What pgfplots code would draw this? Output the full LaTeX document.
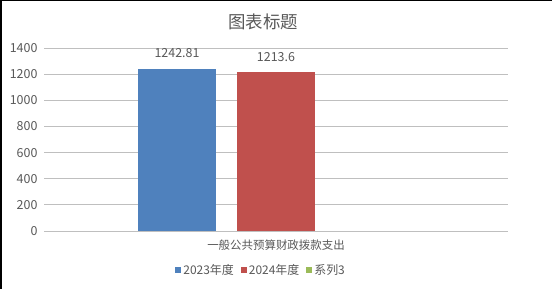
\documentclass[border=0pt]{standalone}
\usepackage{pgfplots}
\pgfplotsset{compat=1.18}
\usepackage{fontspec}
\setmainfont{Noto Sans CJK SC}
\definecolor{sblue}{HTML}{4F81BD}
\definecolor{sred}{HTML}{C0504D}
\definecolor{sgreen}{HTML}{9BBB59}
\definecolor{txt}{HTML}{595959}
\definecolor{grid}{HTML}{DDDDDD}
\begin{document}
\begin{tikzpicture}
\path[use as bounding box] (0bp,0bp) rectangle (552bp,289bp);
\fill[white] (0bp,0bp) rectangle (552bp,289bp);
\draw[black,line width=1bp] (0bp,288.5bp) -- (552bp,288.5bp);
\draw[black,line width=2bp] (1bp,0bp) -- (1bp,289bp);
\node[text=txt,font=\fontsize{17.5}{20}\selectfont] at (263bp,267bp) {图表标题};
\begin{axis}[
  at={(44bp,58bp)}, anchor=south west,
  scale only axis, width=464bp, height=183bp,
  ybar=21bp, bar width=78bp,
  xmin=-0.5, xmax=0.5, ymin=0, ymax=1400,
  ytick={0,200,...,1400},
  xtick={0}, xticklabels={一般公共预算财政拨款支出},
  axis line style={draw=none},
  major tick length=0pt,
  xtick style={draw=none}, ytick style={draw=none},
  xmajorgrids=false, ymajorgrids, grid style={grid, line width=0.75bp},
  tick label style={text=txt, font=\fontsize{11.5}{13}\selectfont},
  yticklabel style={font=\fontsize{12.5}{14}\selectfont, xshift=-3bp},
  /pgf/number format/assume math mode=true,
  /pgf/number format/1000 sep={},
  xticklabel style={yshift=-5bp},
  legend columns=-1,
  legend style={at={(0.468,-0.213)}, anchor=center, draw=none, fill=none,
    font=\fontsize{12}{14}\selectfont, text=txt,
    /tikz/every even column/.append style={column sep=5bp}},
  legend image code/.code={\path[#1,draw=none] (0bp,-3bp) rectangle (6bp,3bp);},
  nodes near coords style={text=txt, font=\fontsize{12.5}{14}\selectfont, anchor=south, inner sep=0pt, yshift=11bp},
  point meta=explicit symbolic,
]
\addplot[fill=sblue, draw=none, nodes near coords] coordinates {(0,1242.81) [1242.81]};
\addplot[fill=sred, draw=none, nodes near coords] coordinates {(0,1213.6) [1213.6]};
\addplot[fill=sgreen, draw=none] coordinates {(0,0) [ ]};
\legend{2023年度,2024年度,系列3}
\end{axis}
\end{tikzpicture}
\end{document}
